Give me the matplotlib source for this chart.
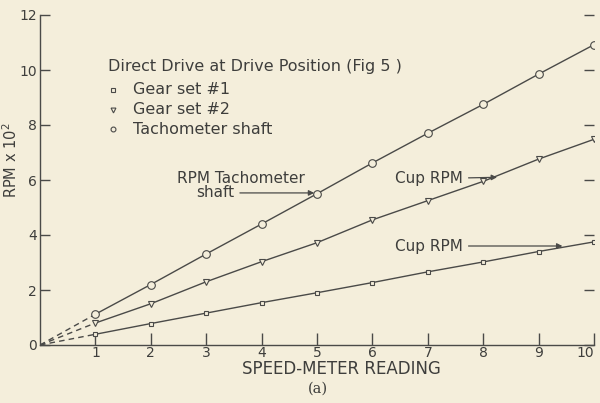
import numpy as np
import matplotlib
matplotlib.use('Agg')
import matplotlib.pyplot as plt

# data
speed = [1, 2, 3, 4, 5, 6, 7, 8, 9, 10]
gear1 = [0.39, 0.78, 1.16, 1.54, 1.90, 2.27, 2.66, 3.02, 3.40, 3.75]
gear2 = [0.80, 1.50, 2.30, 3.03, 3.72, 4.55, 5.25, 5.95, 6.76, 7.48]
tach = [1.12, 2.20, 3.31, 4.40, 5.50, 6.62, 7.70, 8.75, 9.85, 10.92]
series_labels = ['Gear set #1', 'Gear set #2', 'Tachometer shaft']
x_ticks = [1, 2, 3, 4, 5, 6, 7, 8, 9, 10]
y_ticks = [0, 2, 4, 6, 8, 10, 12]

bg = '#f4eedb'
ink = '#4a4a48'
txt = '#3e3e3c'

plt.rcParams['font.family'] = ['DejaVu Sans']

fig = plt.figure(figsize=(6, 4.03), dpi=100, facecolor=bg)
ax = fig.add_axes([40/600, 58/403, 554/600, 330/403], facecolor=bg)

markers = ['s', 'v', 'o']
sizes = [3.5, 4.5, 5.5]
for ys, m, ms in zip([gear1, gear2, tach], markers, sizes):
    ax.plot(speed, ys, color=ink, lw=1.0, marker=m, ms=ms,
            mfc=bg, mec=ink, mew=0.8, zorder=3)
    # dashed extrapolation back to origin
    ax.plot([0, speed[0]], [0, ys[0]], color=ink, lw=1.0,
            ls=(0, (4, 3)), zorder=2)

ax.set_xlim(0, 10)
ax.set_ylim(0, 12)
ax.spines['top'].set_visible(False)
ax.spines['right'].set_visible(False)
for s in ['left', 'bottom']:
    ax.spines[s].set_color(ink)
    ax.spines[s].set_linewidth(1.0)

ax.set_xticks(x_ticks)
ax.set_yticks(y_ticks)
ax.tick_params(axis='x', direction='in', length=9, width=1.0, color=ink,
               labelcolor=txt, labelsize=10, pad=1)
ax.tick_params(axis='y', direction='in', length=7, width=1.0, color=ink,
               labelcolor=txt, labelsize=10, pad=2, right=True)
ax.get_xticklabels()[-1].set_horizontalalignment('right')

ax.set_xlabel('SPEED-METER READING', fontsize=12, color=txt)
ax.xaxis.set_label_coords(0.545, -0.045)
ax.set_ylabel('RPM x 10$^2$', fontsize=10.5, color=txt)
ax.yaxis.set_label_coords(-0.036, 0.56)

# legend, laid out by hand like the lettered original
fig.text(108/600, 1 - 67/403, 'Direct Drive at Drive Position (Fig 5 )',
         fontsize=11.5, color=txt, va='center')
for i, (m, lab) in enumerate(zip(markers, series_labels)):
    yy = 1 - (90 + 19.5 * i) / 403
    fig.lines.append(plt.Line2D([113/600], [yy], transform=fig.transFigure,
                                ls='none', marker=m, ms=3.5, mfc=bg, mec=ink, mew=0.8))
    fig.text(133/600, yy, lab, fontsize=11.5, color=txt, va='center')

# annotations
arrow = dict(arrowstyle='-|>', color=ink, lw=0.9, mutation_scale=8)
ax.text(2.47, 6.07, 'RPM Tachometer', fontsize=11, color=txt, va='center')
ax.annotate('shaft', xy=(5.0, 5.53), xytext=(2.82, 5.53), fontsize=11,
            color=txt, va='center', arrowprops=arrow)
ax.annotate('Cup RPM', xy=(8.3, 6.1), xytext=(6.41, 6.05), fontsize=11,
            color=txt, va='center', arrowprops=arrow)
ax.annotate('Cup RPM', xy=(9.48, 3.6), xytext=(6.41, 3.6), fontsize=11,
            color=txt, va='center', arrowprops=arrow)

fig.text(318/600, 1 - 389/403, '(a)', fontsize=10.5, color=txt,
         family='DejaVu Serif', ha='center', va='center')

fig.savefig('out.png', dpi=100, facecolor=bg)
